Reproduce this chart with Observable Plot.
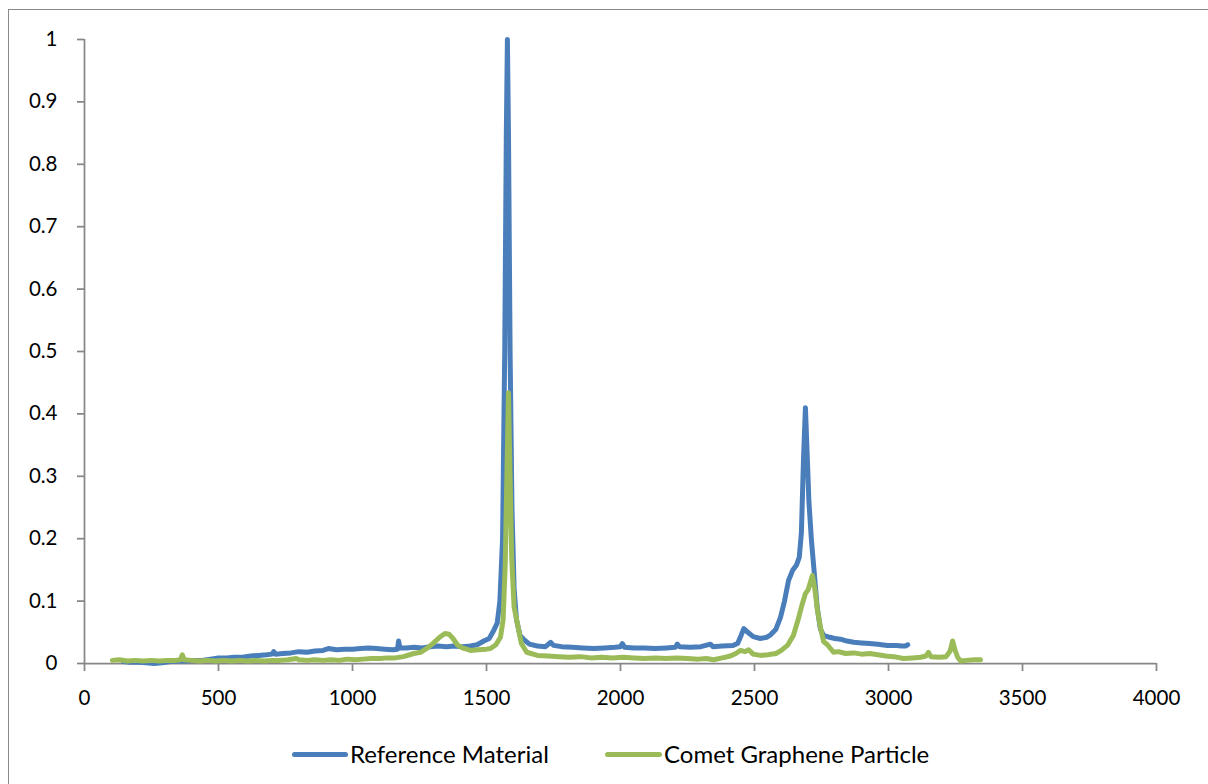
<!DOCTYPE html>
<html>
<head>
<meta charset="utf-8">
<script src="https://cdn.jsdelivr.net/npm/d3@7"></script>
<script src="https://cdn.jsdelivr.net/npm/@observablehq/plot@0.6"></script>
<style>
  html, body { margin: 0; padding: 0; background: #fff; overflow: hidden; }
  #wrap { position: relative; width: 1208px; height: 784px; overflow: hidden; font-family: Lato, "Open Sans", sans-serif; }
  #frame { position: absolute; left: 8px; top: 9px; width: 1400px; height: 900px; border: 1.5px solid #898989; box-sizing: border-box; }
  #chart { position: absolute; left: 0; top: 0; }
  #legend { position: absolute; left: 0; top: 720px; width: 1208px; height: 64px; }
  .sw { position: absolute; height: 5px; border-radius: 3px; top: 32px; }
  .lt { position: absolute; top: 19px; font-size: 24px; line-height: 30px; color: #000; white-space: nowrap; }
</style>
</head>
<body>
<div id="wrap">
  <div id="frame"></div>
  <div id="chart"></div>
  <div id="legend"></div>
</div>
<script>
// ---- data ----
const seriesNames = ["Reference Material", "Comet Graphene Particle"];
const seriesColors = ["#4A7EBB", "#9BBB59"];
const xTicks = [0, 500, 1000, 1500, 2000, 2500, 3000, 3500, 4000];
const yTicks = [0, 0.1, 0.2, 0.3, 0.4, 0.5, 0.6, 0.7, 0.8, 0.9, 1];

const refX = [145,170,200,230,260,290,320,350,380,410,440,470,500,530,560,590,620,650,680,700,706,712,740,770,800,830,860,890,910,940,970,1000,1030,1060,1090,1120,1150,1168,1172,1177,1200,1230,1260,1290,1320,1350,1380,1410,1440,1465,1490,1510,1527,1540,1550,1560,1568,1574,1578,1582,1588,1595,1603,1612,1625,1640,1660,1690,1720,1739,1750,1780,1820,1860,1900,1940,1980,2000,2007,2015,2050,2090,2130,2170,2205,2212,2220,2260,2300,2336,2345,2380,2420,2437,2450,2460,2475,2495,2522,2545,2560,2580,2597,2612,2627,2643,2657,2667,2675,2683,2690,2697,2703,2712,2722,2734,2746,2758,2780,2800,2821,2845,2870,2900,2930,2960,2996,3030,3050,3063,3072];
const refY = [.003,.002,.002,.001,.000,.001,.003,.004,.004,.005,.005,.007,.009,.009,.010,.010,.012,.013,.014,.015,.019,.015,.016,.017,.019,.018,.020,.021,.024,.022,.023,.023,.024,.025,.024,.023,.022,.023,.036,.025,.025,.026,.025,.027,.028,.027,.028,.027,.028,.030,.036,.040,.053,.065,.10,.20,.50,.85,1.0,.85,.50,.25,.12,.07,.045,.038,.031,.028,.027,.034,.029,.027,.026,.025,.024,.025,.026,.027,.032,.026,.025,.025,.024,.025,.026,.031,.027,.026,.027,.031,.027,.028,.029,.032,.045,.056,.050,.043,.040,.042,.046,.055,.074,.10,.133,.150,.158,.170,.21,.33,.41,.33,.26,.20,.15,.09,.055,.045,.042,.040,.039,.036,.034,.033,.032,.031,.029,.029,.028,.028,.030];

const cometX = [104,130,160,190,220,250,280,310,340,358,365,372,400,430,460,490,520,550,580,610,640,670,700,730,760,790,800,830,860,890,920,950,980,1010,1040,1070,1104,1130,1160,1190,1229,1254,1280,1303,1325,1345,1360,1375,1391,1410,1440,1470,1500,1515,1535,1552,1562,1570,1577,1582,1587,1594,1603,1615,1630,1650,1690,1730,1770,1810,1850,1890,1930,1970,2010,2050,2090,2130,2170,2210,2250,2290,2320,2347,2380,2410,2430,2448,2465,2478,2495,2522,2550,2580,2600,2623,2645,2664,2678,2690,2700,2716,2725,2735,2746,2758,2772,2795,2813,2840,2870,2900,2930,2960,2990,3020,3056,3090,3120,3140,3149,3158,3190,3215,3230,3239,3248,3258,3269,3290,3320,3343];
const cometY = [.005,.006,.004,.005,.004,.005,.004,.005,.005,.006,.014,.006,.005,.004,.005,.004,.005,.004,.005,.004,.005,.004,.005,.005,.006,.008,.006,.005,.006,.005,.006,.005,.007,.006,.007,.008,.008,.009,.009,.011,.016,.018,.025,.033,.042,.048,.047,.040,.030,.025,.021,.022,.023,.024,.030,.042,.07,.16,.32,.434,.32,.17,.09,.065,.032,.018,.013,.012,.011,.010,.011,.009,.010,.009,.010,.009,.008,.009,.008,.009,.008,.007,.008,.006,.009,.012,.016,.021,.019,.022,.015,.013,.014,.016,.021,.029,.045,.072,.095,.112,.118,.141,.12,.085,.058,.035,.030,.018,.019,.016,.017,.015,.016,.014,.012,.011,.008,.009,.010,.012,.018,.011,.010,.011,.020,.036,.022,.010,.004,.005,.006,.006];

const ref = refX.map((x, i) => ({x, y: refY[i]}));
const comet = cometX.map((x, i) => ({x, y: cometY[i]}));

const axisColor = "#878787";
const chart = Plot.plot({
  width: 1208,
  height: 720,
  marginLeft: 84,
  marginRight: 52,
  marginTop: 39,
  marginBottom: 57,
  x: {domain: [0, 4000]},
  y: {domain: [0, 1]},
  style: {fontFamily: "Lato, 'Open Sans', sans-serif", fontSize: "20.5px", color: "#000", background: "transparent", overflow: "visible"},
  marks: [
    Plot.axisY({ticks: yTicks, tickSize: 7, tickPadding: 20, stroke: axisColor, strokeWidth: 1.75, fill: "#000", tickFormat: d => d3.format("~g")(d), label: null}),
    Plot.axisX({ticks: xTicks, tickSize: 8, tickPadding: 19, stroke: axisColor, strokeWidth: 1.75, fill: "#000", tickFormat: d => String(d), label: null}),
    Plot.ruleX([0], {stroke: axisColor, strokeWidth: 1.75}),
    Plot.ruleY([0], {stroke: axisColor, strokeWidth: 1.75}),
    Plot.line(ref, {x: "x", y: "y", stroke: seriesColors[0], strokeWidth: 5, strokeLinejoin: "round", strokeLinecap: "round"}),
    Plot.line(comet, {x: "x", y: "y", stroke: seriesColors[1], strokeWidth: 5, strokeLinejoin: "round", strokeLinecap: "round"})
  ]
});
document.getElementById("chart").appendChild(chart);

// legend
const legend = document.getElementById("legend");
const swLeft = [292, 605];
const txtLeft = [350, 664];
seriesNames.forEach((name, i) => {
  const sw = document.createElement("div");
  sw.className = "sw";
  sw.style.left = swLeft[i] + "px";
  sw.style.width = (txtLeft[i] - swLeft[i] - 2) + "px";
  sw.style.background = seriesColors[i];
  legend.appendChild(sw);
  const t = document.createElement("div");
  t.className = "lt";
  t.style.left = txtLeft[i] + "px";
  t.textContent = name;
  legend.appendChild(t);
});
</script>
</body>
</html>
